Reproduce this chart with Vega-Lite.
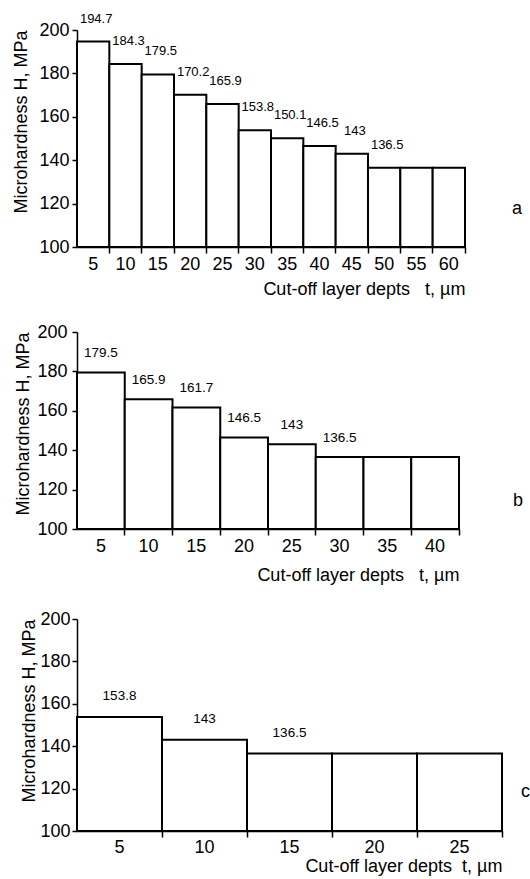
{
  "$schema": "https://vega.github.io/schema/vega-lite/v6.json",
  "background": "white",
  "padding": {"left": 12, "top": 12, "right": 5, "bottom": 5},
  "spacing": 25,
  "columns": 1,
  "align": "none",
  "config": {
    "font": "Liberation Sans",
    "view": {"stroke": null},
    "axis": {
      "domainColor": "black", "tickColor": "black", "labelColor": "black", "titleColor": "black",
      "domainWidth": 1.5, "tickWidth": 1.5, "grid": false,
      "labelFontSize": 18, "titleFontSize": 18, "titleFontWeight": "normal", "labelOverlap": false, "labelBound": false
    },
    "title": {"fontSize": 18, "fontWeight": "normal", "color": "black"}
  },
  "concat": [
    {
      "width": 388, "height": 217,
      "title": {"text": "a", "orient": "right", "angle": 0, "anchor": "end", "frame": "group", "offset": 46, "dy": -47},
      "data": {"values": [
        {"t": 5, "H": 194.7, "label": "194.7"},
        {"t": 10, "H": 184.3, "label": "184.3"},
        {"t": 15, "H": 179.5, "label": "179.5"},
        {"t": 20, "H": 170.2, "label": "170.2"},
        {"t": 25, "H": 165.9, "label": "165.9"},
        {"t": 30, "H": 153.8, "label": "153.8"},
        {"t": 35, "H": 150.1, "label": "150.1"},
        {"t": 40, "H": 146.5, "label": "146.5"},
        {"t": 45, "H": 143, "label": "143"},
        {"t": 50, "H": 136.5, "label": "136.5"},
        {"t": 55, "H": 136.5, "label": ""},
        {"t": 60, "H": 136.5, "label": ""}
      ]},
      "layer": [
        {
          "mark": {"type": "bar", "fill": "white", "stroke": "black", "strokeWidth": 2},
          "encoding": {
            "x": {"field": "t", "type": "ordinal", "sort": null, "scale": {"paddingInner": 0, "paddingOuter": 0},
                  "axis": {"orient": "bottom", "labels": false, "ticks": true, "tickSize": 6, "bandPosition": 1, "title": null}},
            "y": {"field": "H", "type": "quantitative", "scale": {"domain": [100, 200], "nice": false},
                  "axis": {"values": [100, 120, 140, 160, 180, 200], "tickCount": 6, "labelOverlap": false, "tickSize": 5, "labelPadding": 3, "title": "Microhardness H, MPa", "titleAnchor": "end", "titlePadding": 8}},
            "y2": {"datum": 100}
          }
        },
        {
          "mark": {"type": "text", "fontSize": 13, "baseline": "bottom", "dy": -16, "dx": 3, "color": "black"},
          "encoding": {
            "x": {"field": "t", "type": "ordinal", "sort": null,
                  "axis": {"orient": "bottom", "ticks": false, "domain": false, "labelAngle": 0, "labelPadding": 8, "title": "Cut-off layer depts\u00a0\u00a0\u00a0t,\u00a0µm", "titleAnchor": "end", "titlePadding": 7}},
            "y": {"field": "H", "type": "quantitative"},
            "text": {"field": "label"}
          }
        }
      ],
      "resolve": {"axis": {"x": "independent"}}
    },
    {
      "spacing": 26,
      "columns": 1,
      "align": "none",
      "concat": [
        {
          "width": 382, "height": 197,
          "title": {"text": "b", "orient": "right", "angle": 0, "anchor": "end", "frame": "group", "offset": 53, "dy": -37},
          "data": {"values": [
            {"t": 5, "H": 179.5, "label": "179.5"},
            {"t": 10, "H": 165.9, "label": "165.9"},
            {"t": 15, "H": 161.7, "label": "161.7"},
            {"t": 20, "H": 146.5, "label": "146.5"},
            {"t": 25, "H": 143, "label": "143"},
            {"t": 30, "H": 136.5, "label": "136.5"},
            {"t": 35, "H": 136.5, "label": ""},
            {"t": 40, "H": 136.5, "label": ""}
          ]},
          "layer": [
            {
              "mark": {"type": "bar", "fill": "white", "stroke": "black", "strokeWidth": 2},
              "encoding": {
                "x": {"field": "t", "type": "ordinal", "sort": null, "scale": {"paddingInner": 0, "paddingOuter": 0},
                      "axis": {"orient": "bottom", "labels": false, "ticks": true, "tickSize": 6, "bandPosition": 1, "title": null}},
                "y": {"field": "H", "type": "quantitative", "scale": {"domain": [100, 200], "nice": false},
                      "axis": {"values": [100, 120, 140, 160, 180, 200], "tickCount": 6, "labelOverlap": false, "tickSize": 5, "labelPadding": 5, "title": "Microhardness H, MPa", "titleAnchor": "end", "titlePadding": 4}},
                "y2": {"datum": 100}
              }
            },
            {
              "mark": {"type": "text", "fontSize": 13.5, "baseline": "bottom", "dy": -12, "color": "black"},
              "encoding": {
                "x": {"field": "t", "type": "ordinal", "sort": null,
                      "axis": {"orient": "bottom", "ticks": false, "domain": false, "labelAngle": 0, "labelPadding": 8, "title": "Cut-off layer depts\u00a0\u00a0\u00a0t,\u00a0µm", "titleAnchor": "end", "titlePadding": 11}},
                "y": {"field": "H", "type": "quantitative"},
                "text": {"field": "label"}
              }
            }
          ],
          "resolve": {"axis": {"x": "independent"}}
        },
        {
          "width": 425, "height": 212,
          "title": {"text": "c", "orient": "right", "angle": 0, "anchor": "end", "frame": "group", "offset": 18, "dy": -48},
          "data": {"values": [
            {"t": 5, "H": 153.8, "label": "153.8"},
            {"t": 10, "H": 143, "label": "143"},
            {"t": 15, "H": 136.5, "label": "136.5"},
            {"t": 20, "H": 136.5, "label": ""},
            {"t": 25, "H": 136.5, "label": ""}
          ]},
          "layer": [
            {
              "mark": {"type": "bar", "fill": "white", "stroke": "black", "strokeWidth": 2},
              "encoding": {
                "x": {"field": "t", "type": "ordinal", "sort": null, "scale": {"paddingInner": 0, "paddingOuter": 0},
                      "axis": {"orient": "bottom", "labels": false, "ticks": true, "tickSize": 6, "bandPosition": 1, "title": null}},
                "y": {"field": "H", "type": "quantitative", "scale": {"domain": [100, 200], "nice": false},
                      "axis": {"values": [100, 120, 140, 160, 180, 200], "tickCount": 6, "labelOverlap": false, "tickSize": 5, "labelPadding": 2, "title": "Microhardness H, MPa", "titleAnchor": "end", "titlePadding": 1}},
                "y2": {"datum": 100}
              }
            },
            {
              "mark": {"type": "text", "fontSize": 13.5, "baseline": "bottom", "dy": -14, "color": "black"},
              "encoding": {
                "x": {"field": "t", "type": "ordinal", "sort": null,
                      "axis": {"orient": "bottom", "ticks": false, "domain": false, "labelAngle": 0, "labelPadding": 7, "title": "Cut-off layer depts\u00a0\u00a0t,\u00a0µm", "titleAnchor": "end", "titlePadding": 1}},
                "y": {"field": "H", "type": "quantitative"},
                "text": {"field": "label"}
              }
            }
          ],
          "resolve": {"axis": {"x": "independent"}}
        }
      ]
    }
  ]
}
